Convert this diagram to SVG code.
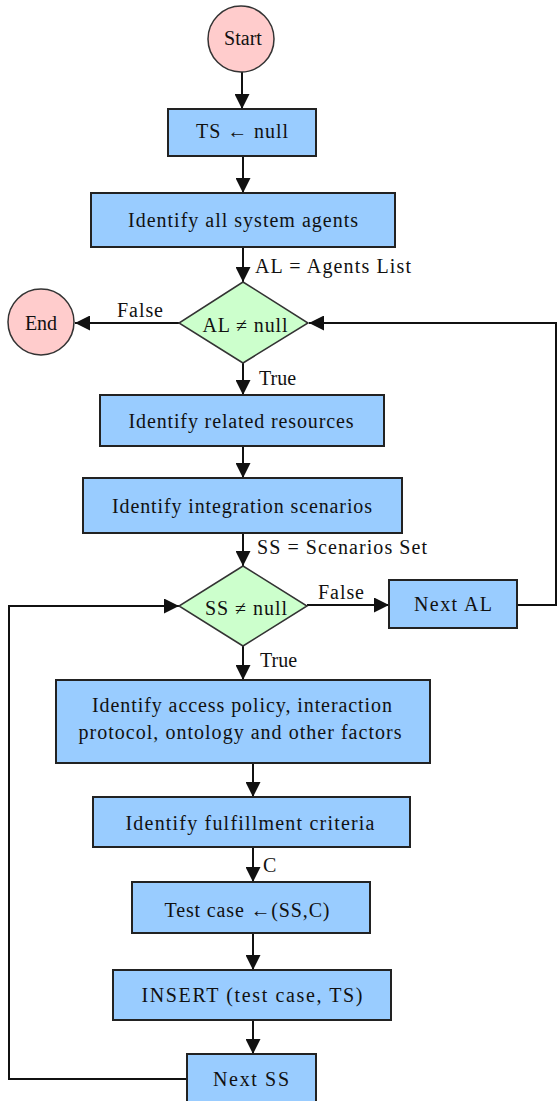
<svg xmlns="http://www.w3.org/2000/svg" width="558" height="1101" viewBox="0 0 558 1101">
<style>
.box{fill:#99CCFF;stroke:#222;stroke-width:2}
.dec{fill:#CCFFCC;stroke:#333;stroke-width:1.5}
.term{fill:#FFCCCC;stroke:#333;stroke-width:1.5}
.t{font-size:20px;fill:#111;text-anchor:middle}
.l{font-size:20px;fill:#111}
.c{fill:none;stroke:#111;stroke-width:2}
</style>
<defs>
<marker id="ah" markerUnits="userSpaceOnUse" markerWidth="15" markerHeight="15" refX="15" refY="7.5" orient="auto">
<path d="M0,0 L15,7.5 L0,15 z" fill="#111"/>
</marker>
</defs>
<rect width="558" height="1101" fill="#fff"/>
<g font-family="Liberation Serif, Times New Roman, DejaVu Serif, serif">
<g id="connectors">
<line class="c" x1="242" y1="72" x2="242" y2="109" marker-end="url(#ah)"/>
<line class="c" x1="243" y1="156" x2="243" y2="193" marker-end="url(#ah)"/>
<line class="c" x1="243" y1="247" x2="243" y2="282" marker-end="url(#ah)"/>
<line class="c" x1="179" y1="323" x2="75" y2="323" marker-end="url(#ah)"/>
<polyline class="c" points="517,605 556,605 556,323 309,323" marker-end="url(#ah)"/>
<line class="c" x1="243" y1="363" x2="243" y2="395" marker-end="url(#ah)"/>
<line class="c" x1="243" y1="446" x2="243" y2="478" marker-end="url(#ah)"/>
<line class="c" x1="243" y1="533" x2="243" y2="566" marker-end="url(#ah)"/>
<line class="c" x1="307" y1="605" x2="389" y2="605" marker-end="url(#ah)"/>
<line class="c" x1="243" y1="646" x2="243" y2="680" marker-end="url(#ah)"/>
<line class="c" x1="253" y1="763" x2="253" y2="797" marker-end="url(#ah)"/>
<line class="c" x1="253" y1="847" x2="253" y2="882" marker-end="url(#ah)"/>
<line class="c" x1="253" y1="933" x2="253" y2="970" marker-end="url(#ah)"/>
<line class="c" x1="253" y1="1020" x2="253" y2="1054" marker-end="url(#ah)"/>
<polyline class="c" points="187,1079 9,1079 9,606 179,606" marker-end="url(#ah)"/>
<text class="l" x="255" y="273" textLength="156" lengthAdjust="spacing">AL = Agents List</text>
<text class="l" x="117" y="317" textLength="46" lengthAdjust="spacing">False</text>
<text class="l" x="259" y="385">True</text>
<text class="l" x="257" y="554" textLength="170" lengthAdjust="spacing">SS = Scenarios Set</text>
<text class="l" x="318" y="599" textLength="46" lengthAdjust="spacing">False</text>
<text class="l" x="260" y="667">True</text>
<text class="l" x="263" y="872">C</text>
</g>
<g id="start">
<circle class="term" cx="241" cy="39" r="33"/>
<text class="t" x="243" y="45">Start</text>
</g>
<g id="ts-null">
<rect class="box" x="168" y="109" width="148" height="47"/>
<text class="t" x="242" y="138" textLength="92" lengthAdjust="spacing">TS ← null</text>
</g>
<g id="identify-agents">
<rect class="box" x="91" y="193" width="304" height="54"/>
<text class="t" x="243" y="227" textLength="230" lengthAdjust="spacing">Identify all system agents</text>
</g>
<g id="al-check">
<polygon class="dec" points="243,282 308,323 243,363 179,323"/>
<text class="t" x="245" y="332" textLength="85" lengthAdjust="spacing">AL ≠ null</text>
</g>
<g id="end">
<circle class="term" cx="41" cy="322" r="33"/>
<text class="t" x="41" y="330">End</text>
</g>
<g id="identify-resources">
<rect class="box" x="100" y="395" width="284" height="51"/>
<text class="t" x="241" y="428" textLength="225" lengthAdjust="spacing">Identify related resources</text>
</g>
<g id="identify-scenarios">
<rect class="box" x="83" y="478" width="319" height="55"/>
<text class="t" x="242" y="513" textLength="260" lengthAdjust="spacing">Identify integration scenarios</text>
</g>
<g id="ss-check">
<polygon class="dec" points="243,566 307,606 243,646 179,606"/>
<text class="t" x="246" y="615" textLength="82" lengthAdjust="spacing">SS ≠ null</text>
</g>
<g id="next-al">
<rect class="box" x="389" y="580" width="128" height="48"/>
<text class="t" x="453" y="611" textLength="78" lengthAdjust="spacing">Next AL</text>
</g>
<g id="identify-access">
<rect class="box" x="56" y="680" width="374" height="83"/>
<text class="t" x="242" y="712" textLength="300" lengthAdjust="spacing">Identify access policy, interaction</text>
<text class="t" x="240" y="739" textLength="323" lengthAdjust="spacing">protocol, ontology and other factors</text>
</g>
<g id="identify-criteria">
<rect class="box" x="93" y="797" width="317" height="50"/>
<text class="t" x="250" y="830" textLength="249" lengthAdjust="spacing">Identify fulfillment criteria</text>
</g>
<g id="test-case">
<rect class="box" x="132" y="882" width="238" height="51"/>
<text class="t" x="247" y="917" textLength="165" lengthAdjust="spacing">Test case ←(SS,C)</text>
</g>
<g id="insert">
<rect class="box" x="113" y="970" width="278" height="50"/>
<text class="t" x="252" y="1002" textLength="221" lengthAdjust="spacing">INSERT (test case, TS)</text>
</g>
<g id="next-ss">
<rect class="box" x="187" y="1054" width="129" height="52"/>
<text class="t" x="251" y="1086" textLength="76" lengthAdjust="spacing">Next SS</text>
</g>
</g>
</svg>
